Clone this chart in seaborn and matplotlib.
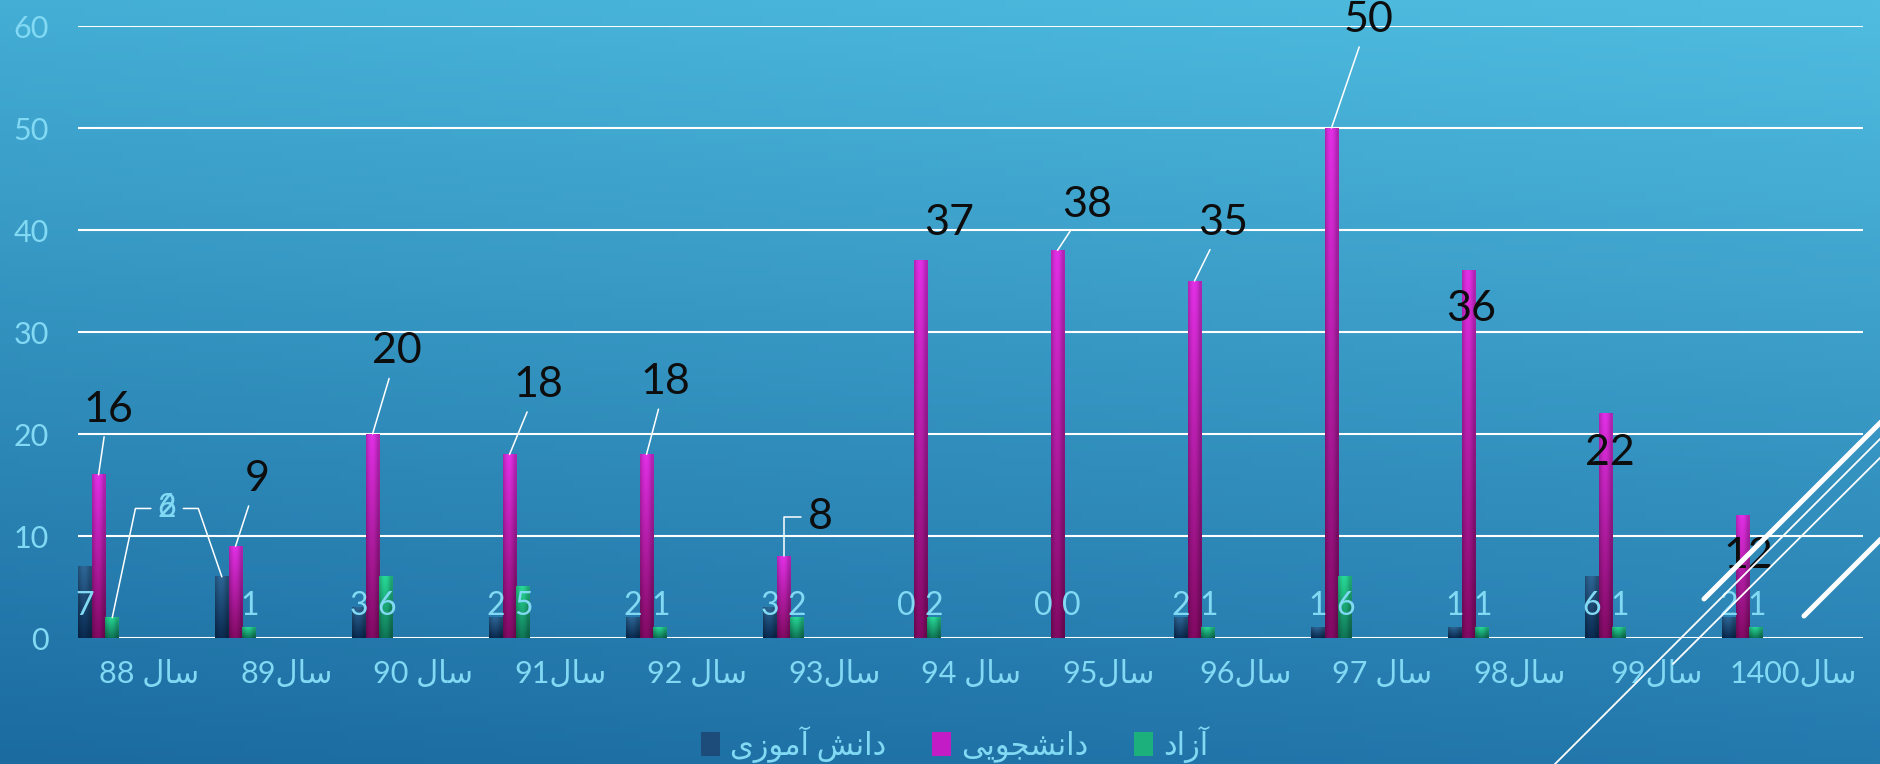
import re
import numpy as np
import pandas as pd
import matplotlib
matplotlib.use('Agg')
import matplotlib.pyplot as plt
from matplotlib.lines import Line2D
from matplotlib.patches import Patch
import seaborn as sns

# داده ها
years = ['سال 88', 'سال89', 'سال 90', 'سال91', 'سال 92', 'سال93', 'سال 94',
         'سال95', 'سال96', 'سال 97', 'سال98', 'سال99', 'سال1400']
series_names = ['دانش آموزی', 'دانشجویی', 'آزاد']
school = [7, 6, 3, 2, 2, 3, 0, 0, 2, 1, 1, 6, 2]
university = [16, 9, 20, 18, 18, 8, 37, 38, 35, 50, 36, 22, 12]
free = [2, 1, 6, 5, 1, 2, 2, 0, 1, 6, 1, 1, 1]

# where the big (black) labels sit: offset from the group, height, leader style
uni_label_pos = [(0.07, 22.4, 'line'), (0.16, 15.6, 'line'), (0.18, 28.1, 'line'),
                 (0.21, 24.8, 'line'), (0.14, 25.1, 'line'), (0.27, 11.9, 'elbow'),
                 (0.21, 40.7, None), (0.22, 42.5, 'line'), (0.21, 40.7, 'line'),
                 (0.27, 60.6, 'line'), (0.02, 32.3, None), (0.03, 18.1, None),
                 (0.04, 8.0, None)]

CYAN = '#82d9f3'
FONT = ['Lato', 'DejaVu Sans']
THIN = 380  # Lato Regular for digits, DejaVu Book for the persian glyphs

# --- tiny persian shaping (matplotlib has no complex text layout) ---
FORMS = {  # isolated, final, initial, medial
    'ا': ('\uFE8D', '\uFE8E', None, None),
    'آ': ('\uFE81', '\uFE82', None, None),
    'د': ('\uFEA9', '\uFEAA', None, None),
    'ز': ('\uFEAF', '\uFEB0', None, None),
    'و': ('\uFEED', '\uFEEE', None, None),
    'ل': ('\uFEDD', '\uFEDE', '\uFEDF', '\uFEE0'),
    'س': ('\uFEB1', '\uFEB2', '\uFEB3', '\uFEB4'),
    'ن': ('\uFEE5', '\uFEE6', '\uFEE7', '\uFEE8'),
    'ش': ('\uFEB5', '\uFEB6', '\uFEB7', '\uFEB8'),
    'م': ('\uFEE1', '\uFEE2', '\uFEE3', '\uFEE4'),
    'ج': ('\uFE9D', '\uFE9E', '\uFE9F', '\uFEA0'),
    'ی': ('\uFBFC', '\uFBFD', '\uFBFE', '\uFBFF'),
}


def shape(text):
    out = []
    for i, ch in enumerate(text):
        if ch not in FORMS:
            out.append(ch)
            continue
        prev = text[i - 1] if i > 0 else ''
        nxt = text[i + 1] if i + 1 < len(text) else ''
        joins_prev = prev in FORMS and FORMS[prev][2] is not None
        joins_next = FORMS[ch][2] is not None and nxt in FORMS
        iso, fin, ini, med = FORMS[ch]
        if joins_prev and joins_next:
            out.append(med)
        elif joins_prev:
            out.append(fin)
        elif joins_next:
            out.append(ini)
        else:
            out.append(iso)
    return ''.join(out)


def rtl(text):
    runs = re.findall(r'\d+|\D+', shape(text))
    return ''.join(r if r.isdigit() else r[::-1] for r in reversed(runs))


def hex_rgb(h):
    h = h.lstrip('#')
    return np.array([int(h[i:i + 2], 16) / 255 for i in (0, 2, 4)])


# --- figure + gradient background ---
W, H = 1881, 764
fig = plt.figure(figsize=(W / 100, H / 100), dpi=100)
bg = fig.add_axes([0, 0, 1, 1], zorder=-1)
tl, tr = hex_rgb('#44aed5'), hex_rgb('#50bde0')
bl, br = hex_rgb('#1b6ba0'), hex_rgb('#2479ad')
u = np.linspace(0, 1, 200)[None, :, None]
v = np.linspace(0, 1, 100)[:, None, None]
grad = (1 - v) * ((1 - u) * tl + u * tr) + v * ((1 - u) * bl + u * br)
bg.imshow(grad, aspect='auto', extent=(0, 1, 0, 1))
bg.axis('off')

ax = fig.add_axes([78 / W, 1 - 638 / H, (1863 - 78) / W, (638 - 26) / H])
ax.set_facecolor('none')

df = pd.DataFrame({
    'year': years * 3,
    'value': school + university + free,
    'group': [series_names[0]] * 13 + [series_names[1]] * 13 + [series_names[2]] * 13,
})
palette = ['#1b4a78', '#c01cc4', '#1aad7a']
sns.barplot(data=df, x='year', y='value', hue='group', order=years,
            hue_order=series_names, palette=palette, width=0.3, dodge=True,
            legend=False, ax=ax, zorder=3)

# paint each bar with a vertical gradient + some side shading
bar_grads = [('#2d6696', '#0a2a51'), ('#e22fe6', '#830a64'), ('#27d996', '#0f7656')]
side = np.linspace(0, 1, 20)
side = 0.78 + 0.22 * np.sin(np.pi * np.clip(side * 1.15, 0, 1))
for cont, (top, bot) in zip(ax.containers, bar_grads):
    t, b = hex_rgb(top), hex_rgb(bot)
    for bar in cont:
        h = bar.get_height()
        if h <= 0:
            bar.set_visible(False)
            continue
        x0, w = bar.get_x(), bar.get_width()
        rows = np.linspace(0, 1, 64)[:, None, None]
        img = ((1 - rows) * t + rows * b) * side[None, :, None]
        ax.imshow(np.clip(img, 0, 1), extent=(x0, x0 + w, 0, h), aspect='auto',
                  origin='upper', zorder=3, interpolation='bilinear')
        bar.set_facecolor('none')
        bar.set_edgecolor('none')

# labels of the big series (black)
for i, (val, (dx, ly, style)) in enumerate(zip(university, uni_label_pos)):
    kw = {}
    if style == 'line':
        kw['arrowprops'] = dict(arrowstyle='-', color='white', lw=1.1,
                                shrinkA=4, shrinkB=0)
    elif style == 'elbow':
        kw['arrowprops'] = dict(arrowstyle='-', color='white', lw=1.1, shrinkA=3,
                                shrinkB=0, connectionstyle='angle,angleA=0,angleB=90,rad=0')
    ax.annotate(str(val), xy=(i, val), xytext=(i + dx, ly), ha='center', va='center',
                fontsize=31, color='#0d0d0d', family=FONT, fontweight='normal',
                zorder=6, annotation_clip=False, **kw)

# labels of the two small series (cyan)
for i, (a, c) in enumerate(zip(school, free)):
    for off, val, series in ((-0.1, a, 0), (0.1, c, 2)):
        if (i, series) in ((0, 2), (1, 0)):
            angle = 78 if series == 2 else 109
            ax.annotate(str(val), xy=(i + off, val), xytext=(0.5, 12.7),
                        ha='center', va='center', fontsize=23, color=CYAN,
                        family=FONT, fontweight=THIN, zorder=6,
                        arrowprops=dict(arrowstyle='-', color='white', lw=1.1,
                                        shrinkA=3, shrinkB=0,
                                        connectionstyle=f'angle,angleA=0,angleB={angle},rad=0'))
            continue
        ax.text(i + off, 3.1, str(val), ha='center', va='center', fontsize=23,
                color=CYAN, family=FONT, fontweight=THIN, zorder=6)

ax.set_ylim(0, 60)
ax.set_xlim(-0.15, 12.88)
ax.set_yticks(range(0, 61, 10))
ax.set_yticklabels([str(t) for t in range(0, 61, 10)], family=FONT,
                   fontweight=THIN, fontsize=22, color=CYAN)
ax.set_xticks(np.arange(len(years)) + 0.37)
ax.set_xticklabels([rtl(y) for y in years], family=FONT, fontweight=THIN,
                   fontsize=22, color=CYAN)
ax.tick_params(axis='y', length=0, pad=21)
ax.tick_params(axis='x', length=0, pad=16)
ax.set_xlabel('')
ax.set_ylabel('')
for s in ax.spines.values():
    s.set_visible(False)
ax.grid(axis='y', color='white', lw=1.5, zorder=1)
ax.grid(axis='x', visible=False)
ax.set_axisbelow(True)

handles = [Patch(facecolor=c, edgecolor='none') for c in ['#1d4c7a', '#c21cc6', '#1cb07c']]
leg = fig.legend(handles, [rtl(s) for s in series_names], loc='center',
                 bbox_to_anchor=(955 / W, 1 - 744 / H), ncol=3, frameon=False,
                 handlelength=0.6, handleheight=0.85, handletextpad=0.35,
                 columnspacing=1.5, prop=dict(family=FONT, size=22))
for txt in leg.get_texts():
    txt.set_color(CYAN)

# decorative white strokes in the bottom right corner
def px_line(p0, p1, lw):
    fig.add_artist(Line2D([p0[0] / W, p1[0] / W], [1 - p0[1] / H, 1 - p1[1] / H],
                          transform=fig.transFigure, color='white', lw=lw,
                          solid_capstyle='round'))

px_line((1704, 599), (1900, 403), 3.6)
px_line((1804, 616), (1900, 520), 3.6)
px_line((1553, 766), (1900, 419), 1.3)
px_line((1673, 664), (1900, 438), 1.3)

fig.savefig('out.png', dpi=100)
